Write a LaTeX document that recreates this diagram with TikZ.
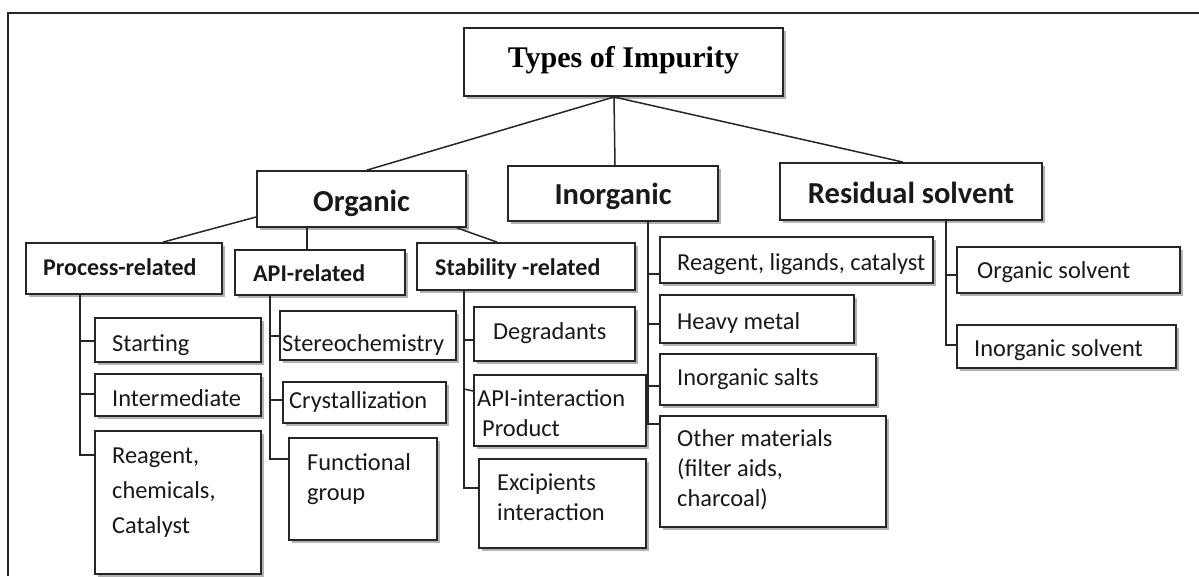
\documentclass[tikz,border=0pt]{standalone}
\usepackage{fontspec}
\setmainfont{Carlito}
\newfontfamily\titlefont{Liberation Serif}
\usetikzlibrary{shadows}
\newcommand\impbox[5]{%
  \pgfmathsetmacro\impbw{#4-#2}\pgfmathsetmacro\impbh{#5-#3}%
  \node[box, minimum width=\impbw pt, minimum height=\impbh pt] (#1) at ({(#2+#4)/2},{(#3+#5)/2}) {};}
\begin{document}
\begin{tikzpicture}[x=1pt,y=-1pt,
  box/.style={draw=black!85, line width=1.8pt, fill=white, inner sep=0pt,
    drop shadow={shadow xshift=2.5pt, shadow yshift=-2.5pt, fill=black, opacity=0.3}},
  conn/.style={draw=black!85, line width=1.5pt},
  lab/.style={anchor=base west, inner sep=0pt, text=black!90, font=\fontsize{24.4}{30}\selectfont},
  sub/.style={anchor=base west, inner sep=0pt, text=black!90, font=\fontsize{24}{30}\selectfont\bfseries},
  head/.style={anchor=base, inner sep=0pt, text=black!90, font=\fontsize{30.5}{36}\selectfont\bfseries},
]
\useasboundingbox (0,0) rectangle (1199,576);
\fill[white] (0,0) rectangle (1199,576);
% frame
\draw[line width=1.4pt, black!85] (8,576) -- (8,13) -- (1199,13);

% boxes
\impbox{title}{464}{28}{783}{96}
\impbox{org}{257}{171}{466}{227}
\impbox{inorg}{508}{166}{718}{221}
\impbox{res}{780}{163}{1042}{220}
\impbox{proc}{26}{243}{222}{294}
\impbox{api}{235}{250}{405}{295}
\impbox{stab}{417}{243}{635}{290}
\impbox{rlc}{660}{237}{933}{283}
\impbox{heavy}{660}{295}{854}{343}
\impbox{salts}{660}{354}{876}{405}
\impbox{oth}{660}{416}{886}{527}
\impbox{osol}{957}{247}{1180}{293}
\impbox{isol}{957}{325}{1176}{368}
\impbox{start}{95}{318}{261}{362}
\impbox{inter}{95}{374}{261}{416}
\impbox{rcc}{95}{431}{261}{574}
\impbox{stereo}{280}{311}{456}{360}
\impbox{cryst}{283}{382}{446}{423}
\impbox{func}{289}{438}{437}{540}
\impbox{degr}{474}{307}{635}{361}
\impbox{apii}{474}{375}{646}{446}
\impbox{exc}{479}{459}{646}{548}

% texts
\node[anchor=base, inner sep=0pt, font=\titlefont\fontsize{30}{36}\selectfont\bfseries] (tTitle) at (623.5,67) {Types of Impurity};
\node[head] (tOrg) at (361.5,211) {Organic};
\node[head] (tInorg) at (613,204) {Inorganic};
\node[head] (tRes) at (911,203) {Residual solvent};
\node[sub] (tProc) at (43,275) {Process-related};
\node[sub] (tApi) at (253,281) {API-related};
\node[sub] (tStab) at (435,275) {Stability -related};
\node[lab] (tRlc) at (677,270) {Reagent, ligands, catalyst};
\node[lab] (tHeavy) at (677,329) {Heavy metal};
\node[lab] (tSalts) at (677,385) {Inorganic salts};
\node[lab] (tOth1) at (677,446) {Other materials};
\node[lab] (tOth2) at (677,476) {(filter aids,};
\node[lab] (tOth3) at (677,506) {charcoal)};
\node[lab] (tOsol) at (977,278) {Organic solvent};
\node[lab] (tIsol) at (974,356) {Inorganic solvent};
\node[lab] (tStart) at (112,351) {Starting};
\node[lab] (tInter) at (112,406) {Intermediate};
\node[lab] (tRcc1) at (112,463) {Reagent,};
\node[lab] (tRcc2) at (112,498) {chemicals,};
\node[lab] (tRcc3) at (112,533) {Catalyst};
\node[lab] (tStereo) at (282,351) {Stereochemistry};
\node[lab] (tCryst) at (289,408) {Crystallization};
\node[lab] (tFunc1) at (307,470) {Functional};
\node[lab] (tFunc2) at (307,500) {group};
\node[lab] (tDegr) at (493,339) {Degradants};
\node[lab] (tApii1) at (477,406) {API-interaction};
\node[lab] (tApii2) at (482,436) {Product};
\node[lab] (tExc1) at (497,490) {Excipients};
\node[lab] (tExc2) at (497,520) {interaction};

% connectors: top level
\coordinate (jt) at (614,97);
\draw[conn] (jt) -- (367,0 |- org.north);
\draw[conn] (jt) -- (615,0 |- inorg.north);
\draw[conn] (jt) -- (903,0 |- res.north);
% organic to subgroups
\draw[conn] (org.west |- 0,217) -- (163,0 |- proc.north);
\draw[conn] (307,0 |- org.south) -- (307,0 |- api.north);
\draw[conn] (457,0 |- org.south) -- (497,0 |- stab.north);
% process-related
\draw[conn] (80,0 |- proc.south) -- (80,455) -- (rcc.west |- 0,455);
\draw[conn] (80,341) -- (start.west |- 0,341);
\draw[conn] (80,394) -- (inter.west |- 0,394);
% API-related
\draw[conn] (270,0 |- api.south) -- (270,459) -- (func.west |- 0,459);
\draw[conn] (270,336) -- (stereo.west |- 0,336);
\draw[conn] (270,400) -- (cryst.west |- 0,400);
% stability-related
\draw[conn] (464,0 |- stab.south) -- (464,488) -- (exc.west |- 0,488);
\draw[conn] (464,340) -- (degr.west |- 0,340);
\draw[conn] (464,389) -- (apii.west |- 0,391);
% inorganic
\draw[conn] (648,0 |- inorg.south) -- (648,424) -- (oth.west |- 0,424);
\draw[conn] (648,274) -- (rlc.west |- 0,274);
\draw[conn] (648,324) -- (heavy.west |- 0,324);
\draw[conn] (648,386) -- (salts.west |- 0,386);
% residual solvent
\draw[conn] (946,0 |- res.south) -- (946,345) -- (isol.west |- 0,345);
\draw[conn] (946,275) -- (osol.west |- 0,275);
\end{tikzpicture}
\end{document}
